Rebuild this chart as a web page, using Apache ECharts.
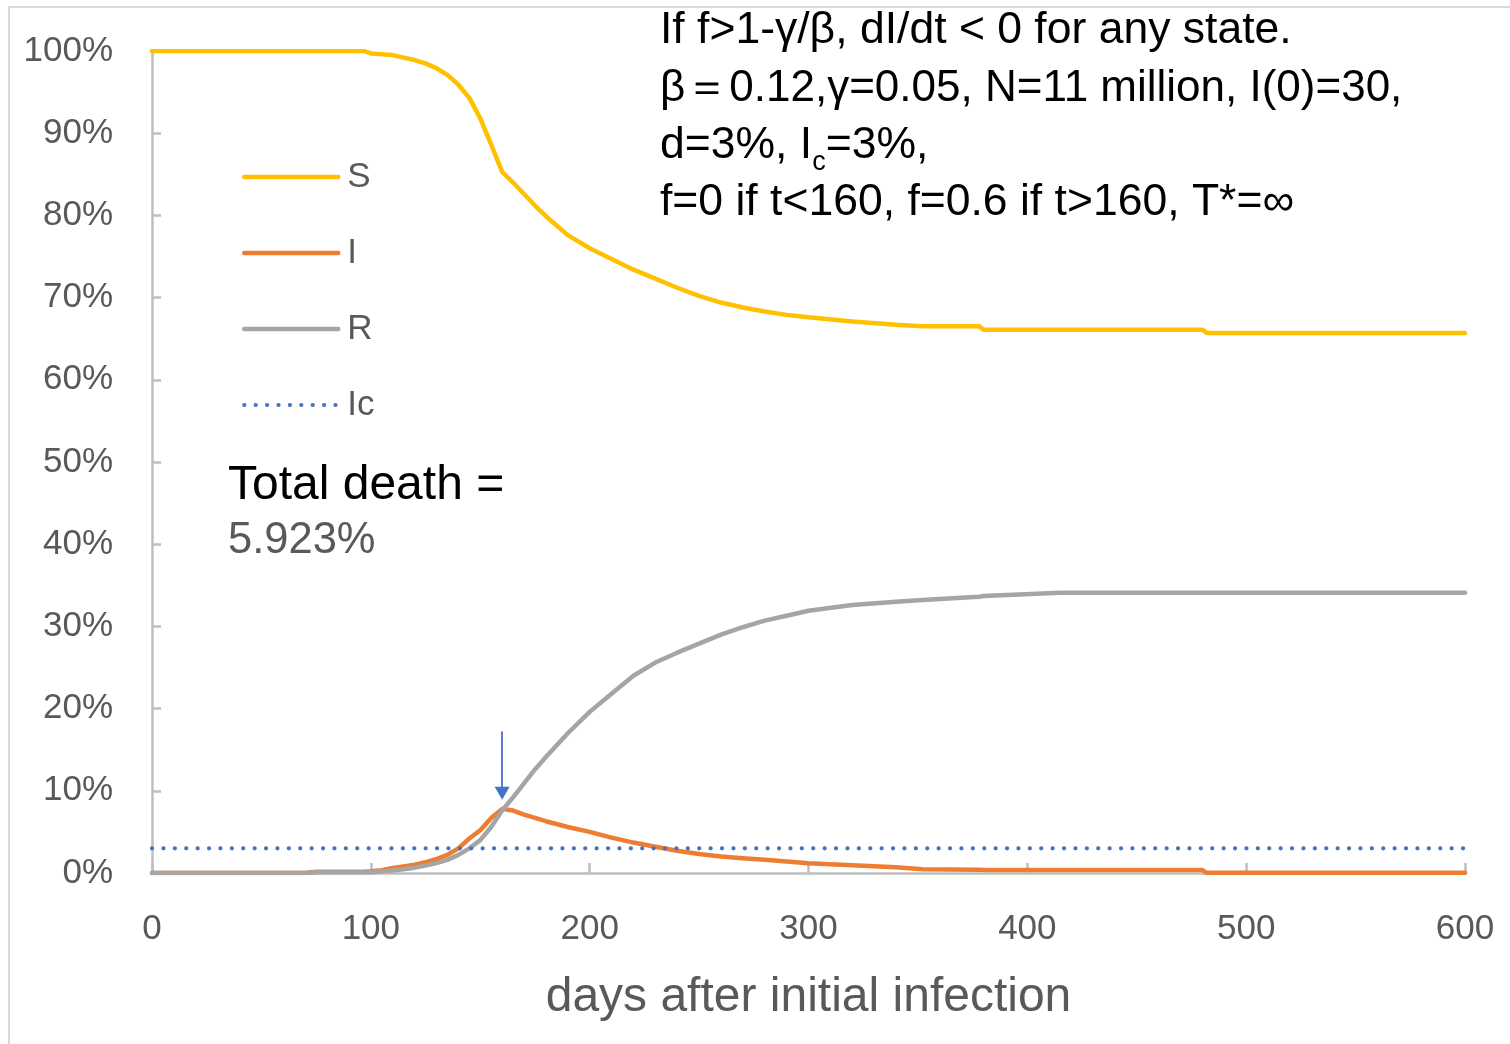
<!DOCTYPE html>
<html>
<head>
<meta charset="utf-8">
<script src="https://cdn.jsdelivr.net/npm/echarts@6/dist/echarts.min.js"></script>
<style>
html,body{margin:0;padding:0;background:#fff;}
#chart{width:1510px;height:1044px;}
</style>
</head>
<body>
<div id="chart"></div>
<script>
// ---- data ----
const days    = [0, 70, 75, 97, 100, 105, 110, 115, 120, 125, 130, 135, 140, 145, 150, 155, 160, 165, 170, 175, 180, 190, 200, 210, 220, 230, 240, 250, 260, 270, 280, 290, 300, 320, 340, 352, 378, 380, 415, 480, 482, 600];
const sValues = [100, 100, 100, 100, 99.7, 99.6, 99.5, 99.2, 98.9, 98.5, 97.9, 97.1, 95.9, 94.3, 91.8, 88.6, 85.3, 84.0, 82.6, 81.2, 79.9, 77.6, 76.0, 74.7, 73.4, 72.3, 71.2, 70.2, 69.4, 68.8, 68.3, 67.9, 67.6, 67.1, 66.7, 66.5, 66.5, 66.1, 66.1, 66.1, 65.7, 65.7];
const iValues = [0, 0, 0.15, 0.15, 0.2, 0.35, 0.6, 0.8, 1.0, 1.3, 1.7, 2.2, 3.0, 4.2, 5.2, 6.7, 7.8, 7.6, 7.1, 6.7, 6.3, 5.6, 5.0, 4.3, 3.7, 3.2, 2.7, 2.3, 2.0, 1.8, 1.6, 1.4, 1.2, 0.95, 0.7, 0.45, 0.4, 0.38, 0.36, 0.35, 0.02, 0.02];
const rValues = [0, 0, 0.1, 0.1, 0.1, 0.2, 0.3, 0.45, 0.65, 0.9, 1.2, 1.6, 2.2, 3.0, 4.0, 5.6, 7.6, 9.2, 10.9, 12.6, 14.1, 17.0, 19.6, 21.8, 24.0, 25.6, 26.8, 27.9, 29.0, 29.9, 30.7, 31.3, 31.9, 32.6, 33.0, 33.2, 33.6, 33.7, 34.1, 34.1, 34.1, 34.1];
const icDays   = [0, 600];
const icValues = [3, 3];
const seriesNames = ['S', 'I', 'R', 'Ic'];
const arrowDay = 160;
const arrowFrom = 17.2;
const arrowTo = 9.7;
const deathLabel = 'Total death =';
const deathValue = '5.923%';
const noteLines = [
  'If f>1-γ/β, dI/dt < 0 for any state.',
  'β＝0.12,γ=0.05, N=11 million, I(0)=30,',
  '{n|d=3%, I}{s|c}{n|=3%,}',
  'f=0 if t<160, f=0.6 if t>160, T*=∞'
];
const xAxisTitle = 'days after initial infection';

// ---- build ----
const FONT = "'Liberation Sans', Arial, sans-serif";
const pair = (xs, ys) => xs.map((x, k) => [x, ys[k]]);

const chart = echarts.init(document.getElementById('chart'), null, {renderer: 'canvas'});

const lineBase = {
  type: 'line', symbol: 'none', showSymbol: false, smooth: false,
  animation: false, silent: true
};

const noteY = [31, 88.5, 146, 203];
const NOTE_SIZE = 44.5;

chart.setOption({
  animation: false,
  backgroundColor: '#ffffff',
  grid: {left: 152, right: 45, top: 51, bottom: 171, containLabel: false, outerBoundsMode: 'none'},
  xAxis: {
    type: 'value', min: 0, max: 600, interval: 100,
    name: xAxisTitle, nameLocation: 'middle', nameGap: 101,
    nameTextStyle: {fontFamily: FONT, fontSize: 48, color: '#595959'},
    axisLine: {show: true, onZero: false, lineStyle: {color: '#BFBFBF', width: 2.5}},
    axisTick: {show: true, inside: true, length: 10, lineStyle: {color: '#BFBFBF', width: 2.5}},
    axisLabel: {margin: 39, fontFamily: FONT, fontSize: 35, color: '#595959'},
    splitLine: {show: false}
  },
  yAxis: {
    type: 'value', min: 0, max: 100, interval: 10,
    axisLine: {show: true, lineStyle: {color: '#BFBFBF', width: 2.5}},
    axisTick: {show: true, inside: true, length: 9, lineStyle: {color: '#BFBFBF', width: 2.5}},
    axisLabel: {margin: 39, fontFamily: FONT, fontSize: 35, color: '#595959', formatter: '{value}%'},
    splitLine: {show: false}
  },
  legend: {
    show: true, orient: 'vertical', left: 242, top: 157, padding: 0,
    itemWidth: 94, itemHeight: 2, itemGap: 36,
    selectedMode: false,
    itemStyle: {opacity: 0},
    lineStyle: {width: 'inherit', type: 'inherit', cap: 'round'},
    textStyle: {fontFamily: FONT, fontSize: 35, color: '#595959', lineHeight: 40, padding: [0, 0, 0, 4]},
    data: seriesNames
  },
  series: [
    Object.assign({}, lineBase, {name: seriesNames[0], data: pair(days, sValues), color: '#FFC000',
      lineStyle: {color: '#FFC000', width: 4.5, cap: 'round'}}),
    Object.assign({}, lineBase, {name: seriesNames[1], data: pair(days, iValues), color: '#ED7D31',
      lineStyle: {color: '#ED7D31', width: 4.5, cap: 'round'},
      markLine: {
        silent: true, animation: false,
        symbol: ['none', 'triangle'], symbolSize: [15, 13],
        label: {show: false},
        lineStyle: {color: '#4472C4', width: 1.8, type: 'solid'},
        data: [[{coord: [arrowDay, arrowFrom]}, {coord: [arrowDay, arrowTo]}]]
      }}),
    Object.assign({}, lineBase, {name: seriesNames[2], data: pair(days, rValues), color: '#A5A5A5',
      lineStyle: {color: '#A5A5A5', width: 4.5, cap: 'round'}}),
    Object.assign({}, lineBase, {name: seriesNames[3], data: pair(icDays, icValues), color: '#4472C4',
      lineStyle: {color: '#4472C4', width: 4.2, type: [0.1, 11.3], cap: 'round'}})
  ],
  graphic: [
    {type: 'rect', silent: true, z: -10, shape: {x: 9, y: 7, width: 1700, height: 1300},
      style: {fill: 'none', stroke: '#D9D9D9', lineWidth: 2}},
    {type: 'text', silent: true, x: 660, y: noteY[0],
      style: {text: noteLines[0], font: NOTE_SIZE + 'px ' + FONT, fill: '#000', align: 'left', verticalAlign: 'middle'}},
    {type: 'text', silent: true, x: 660, y: noteY[1],
      style: {text: noteLines[1], font: '44px ' + FONT, fill: '#000', align: 'left', verticalAlign: 'middle'}},
    {type: 'text', silent: true, x: 660, y: noteY[2],
      style: {text: noteLines[2], font: NOTE_SIZE + 'px ' + FONT, fill: '#000', align: 'left', verticalAlign: 'middle',
        rich: {
          n: {fontFamily: FONT, fontSize: NOTE_SIZE, fill: '#000'},
          s: {fontFamily: FONT, fontSize: 27, fill: '#000', padding: [34, 0, 0, 0]}
        }}},
    {type: 'text', silent: true, x: 660, y: noteY[3],
      style: {text: noteLines[3], font: NOTE_SIZE + 'px ' + FONT, fill: '#000', align: 'left', verticalAlign: 'middle'}},
    {type: 'text', silent: true, x: 228, y: 485.5,
      style: {text: deathLabel, font: '48px ' + FONT, fill: '#000', align: 'left', verticalAlign: 'middle'}},
    {type: 'text', silent: true, x: 228, y: 541,
      style: {text: deathValue, font: '43.5px ' + FONT, fill: '#595959', align: 'left', verticalAlign: 'middle'}}
  ]
});
</script>
</body>
</html>
